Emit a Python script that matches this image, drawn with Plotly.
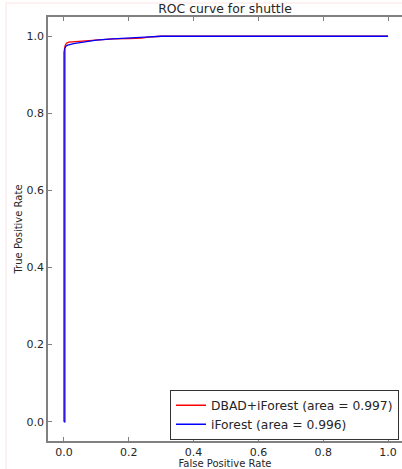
import plotly.graph_objects as go

# ROC data
dbad_fpr = [0.0, 0.0, 0.0, 0.004, 0.008, 0.015, 0.03, 0.06, 0.1, 0.15, 0.2, 0.24, 0.26, 0.28, 0.3, 0.5, 1.0]
dbad_tpr = [0.0, 0.5, 0.958, 0.976, 0.982, 0.985, 0.986, 0.988, 0.990, 0.993, 0.994, 0.995, 0.998, 0.999, 1.0, 1.0, 1.0]
if_fpr = [0.0, 0.003, 0.003, 0.006, 0.012, 0.03, 0.06, 0.1, 0.15, 0.2, 0.25, 0.3, 0.5, 1.0]
if_tpr = [0.0, 0.0, 0.968, 0.974, 0.977, 0.981, 0.985, 0.990, 0.993, 0.996, 0.998, 1.0, 1.0, 1.0]
labels = ["DBAD+iForest (area = 0.997)", "iForest (area = 0.996)"]
x_ticks = [0.0, 0.2, 0.4, 0.6, 0.8, 1.0]
y_ticks = [0.0, 0.2, 0.4, 0.6, 0.8, 1.0]

font = "DejaVu Sans"
fig = go.Figure()
fig.add_trace(go.Scatter(x=dbad_fpr, y=dbad_tpr, mode="lines", name=labels[0],
                         line=dict(color="#ff0000", width=1.3)))
fig.add_trace(go.Scatter(x=if_fpr, y=if_tpr, mode="lines", name=labels[1],
                         line=dict(color="#0000ff", width=1.3)))

axis_common = dict(showgrid=False, zeroline=False, showline=True, linecolor="#808080",
                   linewidth=1.5, ticks="inside", ticklen=4, tickcolor="#808080",
                   tickfont=dict(family=font, size=11, color="#262626"))
fig.update_xaxes(range=[-0.049, 1.043], tickvals=x_ticks, ticktext=[f"{v:.1f}" for v in x_ticks],
                 mirror="ticks",
                 title=dict(text="False Positive Rate", font=dict(family=font, size=10, color="#262626"),
                            standoff=2),
                 **axis_common)
fig.update_yaxes(range=[-0.05, 1.05], tickvals=y_ticks, ticktext=[f"{v:.1f}" for v in y_ticks],
                 title=dict(text="True Positive Rate", font=dict(family=font, size=10, color="#262626"),
                            standoff=2),
                 **axis_common)

fig.update_layout(
    width=402, height=469,
    margin=dict(l=48, r=0, t=17, b=28),
    paper_bgcolor="white", plot_bgcolor="white",
    title=dict(text="ROC curve for shuttle", x=0.5, xref="paper", y=1 - 9 / 469, yref="container",
               yanchor="middle", xanchor="center", font=dict(family=font, size=12.4, color="#262626")),
    legend=dict(x=0.9915, y=0.003, xanchor="right", yanchor="bottom", bgcolor="white",
                bordercolor="#333333", borderwidth=1, itemwidth=30,
                font=dict(family=font, size=12.3, color="#262626"), tracegroupgap=0),
    showlegend=True,
)
# faint frame of the original image
fig.add_shape(type="rect", xref="paper", yref="paper", x0=(6 - 48) / 354, x1=1.2,
              y0=-0.2, y1=1 + (17 - 3) / 424, line=dict(color="#fbe3e3", width=1), layer="below")

fig.write_html("out.html")
